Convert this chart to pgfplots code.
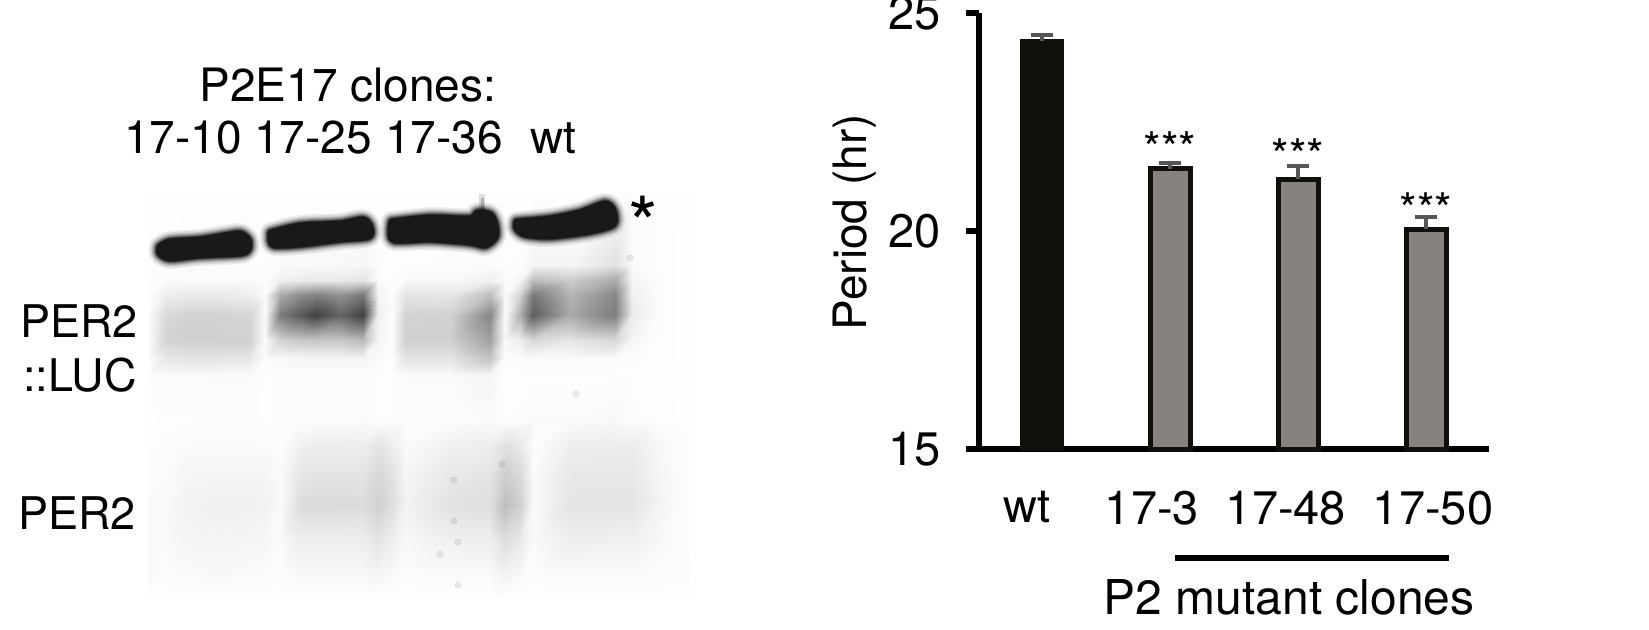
\documentclass[border=0pt]{standalone}
\usepackage{fontspec}
\setmainfont{TeX Gyre Heros}
\usepackage{pgfplots}
\pgfplotsset{compat=1.18}
\pgfplotsset{colormap={blot}{gray=(0) gray=(1)}}
\definecolor{barblack}{HTML}{100F0C}
\definecolor{bargray}{HTML}{85827F}
\definecolor{errgray}{HTML}{555555}
% saturated bands of the blot, outline in image pixels; stacked strokes fake the blur
\pgfplotsset{halo/.style={draw=black,smooth,tension=.45,line join=round,line cap=round}}
\newcommand\band[1]{%
  \addplot[halo,opacity=.06,line width=11pt] coordinates {#1};
  \addplot[halo,opacity=.08,line width=9.5pt] coordinates {#1};
  \addplot[halo,opacity=.11,line width=8pt] coordinates {#1};
  \addplot[halo,opacity=.15,line width=7pt] coordinates {#1};
  \addplot[halo,opacity=.20,line width=6pt] coordinates {#1};
  \addplot[halo,opacity=.28,line width=5pt] coordinates {#1};
  \addplot[halo,opacity=.40,line width=4.2pt] coordinates {#1};
  \addplot[halo,fill=black!90!white,draw=black!90!white,line width=3.4pt] coordinates {#1};
}
\newcommand\lab[2]{\fontsize{#1}{#2}\selectfont}
\begin{document}
\begin{tikzpicture}
\path[use as bounding box] (0,0) rectangle (824.5pt,314.5pt);

% blot smears, grey level on a coarse grid
\begin{axis}[at={(0,0)},anchor=south west,width=824.5pt,height=314.5pt,scale only axis,
  hide axis,view={0}{90},xmin=0,xmax=1649,ymin=0,ymax=629,y dir=reverse,
  colormap name=blot,point meta min=0,point meta max=255]
\addplot3[surf,shader=interp,mesh/cols=24,mesh/rows=15,point meta=z] coordinates {
(148,192,254)(165,192,254)(185,192,254)(215,192,254)(250,192,254)(265,192,254)(280,192,254)(300,192,254)(316,192,254)(340,192,254)(363,192,254)(378,192,254)(392,192,254)(405,192,254)(450,192,254)(490,192,254)(505,192,254)(520,192,254)(533,192,254)(570,192,254)(615,192,254)(632,192,254)(660,192,254)(690,192,254)
(148,265,253)(165,265,253)(185,265,252)(215,265,252)(250,265,252)(265,265,253)(280,265,250)(300,265,250)(316,265,248)(340,265,248)(363,265,246)(378,265,252)(392,265,253)(405,265,253)(450,265,252)(490,265,250)(505,265,253)(520,265,252)(533,265,245)(570,265,245)(615,265,225)(632,265,250)(660,265,253)(690,265,254)
(148,280,253)(165,280,250)(185,280,250)(215,280,250)(250,280,250)(265,280,252)(280,280,240)(300,280,235)(316,280,235)(340,280,235)(363,280,228)(378,280,252)(392,280,253)(405,280,248)(450,280,248)(490,280,240)(505,280,252)(520,280,245)(533,280,190)(570,280,205)(615,280,170)(632,280,245)(660,280,253)(690,280,254)
(148,295,252)(165,295,238)(185,295,235)(215,295,235)(250,295,238)(265,295,250)(280,295,170)(300,295,140)(316,295,130)(340,295,145)(363,295,120)(378,295,245)(392,295,252)(405,295,228)(450,295,230)(490,295,190)(505,295,250)(520,295,210)(533,295,120)(570,295,180)(615,295,135)(632,295,240)(660,295,253)(690,295,254)
(148,315,252)(165,315,218)(185,315,210)(215,315,210)(250,315,214)(265,315,250)(280,315,125)(300,315,90)(316,315,65)(340,315,100)(363,315,65)(378,315,240)(392,315,252)(405,315,212)(450,315,210)(490,315,135)(505,315,250)(520,315,175)(533,315,95)(570,315,170)(615,315,125)(632,315,235)(660,315,253)(690,315,254)
(148,340,252)(165,340,212)(185,340,208)(215,340,208)(250,340,208)(265,340,250)(280,340,210)(300,340,200)(316,340,198)(340,340,200)(363,340,185)(378,340,245)(392,340,252)(405,340,208)(450,340,208)(490,340,160)(505,340,250)(520,340,238)(533,340,215)(570,340,230)(615,340,215)(632,340,245)(660,340,253)(690,340,254)
(148,358,252)(165,358,232)(185,358,228)(215,358,228)(250,358,230)(265,358,252)(280,358,248)(300,358,246)(316,358,245)(340,358,245)(363,358,245)(378,358,250)(392,358,253)(405,358,228)(450,358,228)(490,358,195)(505,358,252)(520,358,252)(533,358,250)(570,358,250)(615,358,250)(632,358,252)(660,358,253)(690,358,254)
(148,375,253)(165,375,250)(185,375,250)(215,375,250)(250,375,250)(265,375,253)(280,375,252)(300,375,252)(316,375,252)(340,375,252)(363,375,252)(378,375,253)(392,375,253)(405,375,250)(450,375,250)(490,375,245)(505,375,253)(520,375,253)(533,375,253)(570,375,253)(615,375,253)(632,375,253)(660,375,254)(690,375,254)
(148,420,254)(165,420,253)(185,420,253)(215,420,252)(250,420,252)(265,420,253)(280,420,252)(300,420,252)(316,420,252)(340,420,252)(363,420,250)(378,420,253)(392,420,253)(405,420,252)(450,420,252)(490,420,250)(505,420,253)(520,420,252)(533,420,250)(570,420,250)(615,420,248)(632,420,252)(660,420,253)(690,420,254)
(148,445,253)(165,445,252)(185,445,250)(215,445,250)(250,445,250)(265,445,250)(280,445,252)(300,445,240)(316,445,238)(340,445,238)(363,445,238)(378,445,228)(392,445,238)(405,445,250)(450,445,240)(490,445,238)(505,445,225)(520,445,232)(533,445,252)(570,445,238)(615,445,236)(632,445,236)(660,445,248)(690,445,254)
(148,475,252)(165,475,250)(185,475,246)(215,475,245)(250,475,245)(265,475,245)(280,475,250)(300,475,230)(316,475,228)(340,475,228)(363,475,228)(378,475,215)(392,475,225)(405,475,245)(450,475,232)(490,475,228)(505,475,205)(520,475,218)(533,475,250)(570,475,232)(615,475,232)(632,475,232)(660,475,246)(690,475,254)
(148,505,250)(165,505,250)(185,505,242)(215,505,240)(250,505,240)(265,505,242)(280,505,250)(300,505,220)(316,505,218)(340,505,218)(363,505,220)(378,505,208)(392,505,222)(405,505,242)(450,505,226)(490,505,222)(505,505,190)(520,505,208)(533,505,250)(570,505,228)(615,505,228)(632,505,228)(660,505,244)(690,505,254)
(148,540,250)(165,540,250)(185,540,245)(215,540,244)(250,540,245)(265,540,246)(280,540,250)(300,540,238)(316,540,238)(340,540,238)(363,540,238)(378,540,228)(392,540,238)(405,540,248)(450,540,240)(490,540,238)(505,540,222)(520,540,232)(533,540,250)(570,540,238)(615,540,240)(632,540,240)(660,540,248)(690,540,253)
(148,575,248)(165,575,252)(185,575,250)(215,575,248)(250,575,250)(265,575,250)(280,575,252)(300,575,248)(316,575,248)(340,575,248)(363,575,248)(378,575,245)(392,575,248)(405,575,252)(450,575,250)(490,575,250)(505,575,242)(520,575,248)(533,575,252)(570,575,250)(615,575,250)(632,575,250)(660,575,251)(690,575,252)
(148,598,254)(165,598,254)(185,598,254)(215,598,254)(250,598,254)(265,598,254)(280,598,254)(300,598,254)(316,598,254)(340,598,254)(363,598,254)(378,598,254)(392,598,254)(405,598,254)(450,598,254)(490,598,254)(505,598,254)(520,598,254)(533,598,254)(570,598,254)(615,598,254)(632,598,254)(660,598,254)(690,598,254)
};
\end{axis}

% bands, specks and the text round the blot
\begin{axis}[at={(0,0)},anchor=south west,width=824.5pt,height=314.5pt,scale only axis,
  hide axis,xmin=0,xmax=1649,ymin=0,ymax=629,y dir=reverse,clip=false]
\addplot[only marks,mark=*,mark size=1.5pt,draw=none,fill=black,opacity=.07]
  coordinates {(454,480)(454,521)(458,542)(440,554)(458,585)(502,464)(576,394)(630,258)};
\addplot[draw=black,opacity=.12,line width=3pt] coordinates {(482,194)(482,215)};
\addplot[draw=black,opacity=.2,line width=1.5pt] coordinates {(482,198)(482,215)};
\band{(160,247)(170,242)(200,240)(225,236)(240,234)(248,240)(248,249)(240,253)(200,255)(170,258)(160,253)(160,247)}
\band{(271,233)(300,226)(340,224)(362,220)(369,225)(369,236)(340,239)(300,244)(275,245)(271,240)(271,233)}
\band{(392,222)(430,218)(470,219)(478,213)(490,215)(495,225)(495,237)(485,245)(470,242)(430,239)(395,240)(391,232)(392,222)}
\band{(517,222)(550,219)(580,213)(605,204)(613,211)(613,224)(590,231)(550,236)(525,234)(517,228)(517,222)}
\node[font=\lab{23}{27}] at (axis cs:348,85) {P2E17 clones:};
\node[font=\lab{23}{27}] at (axis cs:183,138) {17-10};
\node[font=\lab{23}{27}] at (axis cs:313,138) {17-25};
\node[font=\lab{23}{27}] at (axis cs:444,138) {17-36};
\node[font=\lab{23}{27}] at (axis cs:553,138) {wt};
\node[font=\lab{38}{38}] at (axis cs:643,224) {*};
\node[font=\lab{22.5}{27}] at (axis cs:79,321) {PER2};
\node[font=\lab{22.5}{27}] at (axis cs:80,375) {::LUC};
\node[font=\lab{22.5}{27}] at (axis cs:77,513) {PER2};
\end{axis}

% period bars
\begin{axis}[at={(489.5pt,90pt)},anchor=south west,width=255pt,height=218pt,scale only axis,
  ybar,bar width=20pt,
  xmin=-0.492,xmax=3.492,ymin=15,ymax=25,
  axis x line=bottom,axis y line=left,axis line style={-,line width=2.8pt,black},
  xtick={-0.117,0.859,1.906,3.055},xticklabels={wt,17-3,17-48,17-50},
  ytick={15,20,25},
  /pgf/number format/assume math mode=true,
  tick label style={font=\lab{23.5}{27}},
  x tick style={draw=none},
  y tick style={line width=2.6pt,black},
  tick align=outside,major tick length=6.5pt,
  xticklabel style={yshift=-11pt},
  yticklabel style={xshift=-9pt},
  ylabel={Period (hr)},
  ylabel style={font=\lab{23}{27},at={(axis description cs:-0.243,0.52)},anchor=center},
  clip=false,
  error bars/y dir=plus,error bars/y explicit,
  error bars/error mark options={rotate=90,mark size=5.5pt,line width=2pt,errgray},
  error bars/error bar style={line width=1.6pt,errgray}]
\addplot[bar shift=0pt,fill=barblack,draw=barblack,line width=2pt]
  coordinates {(0,24.36) +- (0,0.14)};
\addplot[bar shift=0pt,fill=bargray,draw=barblack,line width=2.5pt]
  coordinates {(1,21.43) +- (0,0.14) (2,21.19) +- (0,0.31) (3,20.04) +- (0,0.29)};
\node[font=\lab{22.5}{22.5}] at (axis cs:1,21.9) {***};
\node[font=\lab{22.5}{22.5}] at (axis cs:2,21.75) {***};
\node[font=\lab{22.5}{22.5}] at (axis cs:3,20.5) {***};
\draw[line width=3.2pt,black] (axis cs:1.04,12.5) -- (axis cs:3.18,12.5);
\node[font=\lab{24}{27}] at (axis cs:1.93,11.6) {P2 mutant clones};
\end{axis}
\end{tikzpicture}
\end{document}
